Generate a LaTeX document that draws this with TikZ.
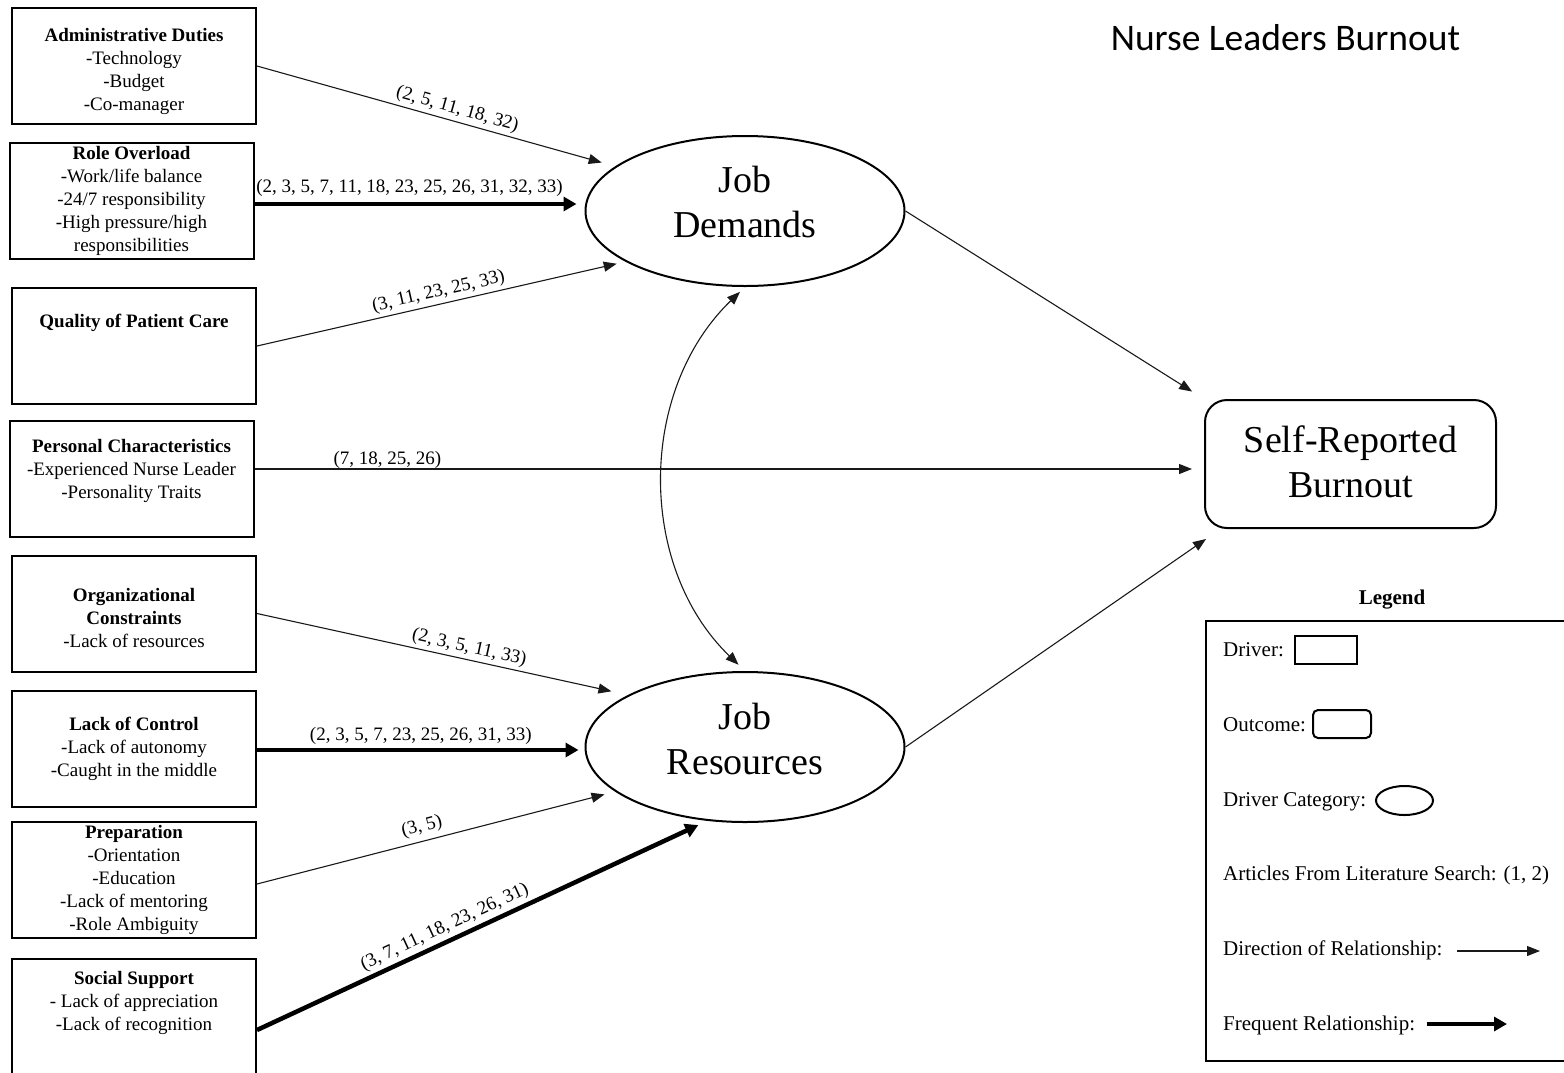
\documentclass[tikz,border=0pt]{standalone}
\usepackage{fontspec}
\setmainfont{Liberation Serif}
\newfontfamily\titlefont{Carlito}
\usetikzlibrary{arrows.meta,shapes.geometric}
\setlength\parindent{0pt}
% driver box contents: top padding, then the centred lines
\newcommand\drvtext[2]{\parbox[c][116pt][t]{244pt}{\centering\vspace*{#1}#2}}
% two centred lines, shifted up by #1 while keeping their box size
\newcommand\twoline[3]{\raisebox{#1}[\height][\depth]{\begin{tabular}{@{}c@{}}#2\\#3\end{tabular}}}
\begin{document}
\begin{tikzpicture}[x=1pt,y=-1pt,
  every node/.style={font=\fontsize{19}{23}\selectfont},
  driverbox/.style={draw, line width=2pt, inner sep=0pt, minimum width=244pt, minimum height=116pt},
  category/.style={draw, ellipse, line width=2pt, minimum width=319pt, minimum height=150pt, inner sep=0pt, font=\fontsize{38}{45}\selectfont},
  outcome/.style={draw, rounded corners=22pt, line width=2pt, minimum width=291pt, minimum height=128pt, font=\fontsize{38}{45}\selectfont},
  rel/.style={line width=1.1pt, draw=black!90, -{Triangle[length=13pt,width=10pt]}},
  freq/.style={line width=4.5pt, -{Triangle[length=13pt,width=14pt]}},
  cite/.style={sloped, above=0pt, inner sep=3pt},
  legtext/.style={anchor=base west, inner sep=0pt, font=\fontsize{21}{25}\selectfont},
]
\useasboundingbox (0,0) rectangle (1564,1072);
\clip (0,0) rectangle (1564,1072);

% title
\node[font=\titlefont\fontsize{37.5}{45}\selectfont] (title) at (1285.5,38) {Nurse Leaders Burnout};

% drivers
\node[driverbox] (adm) at (134,66) {\drvtext{17pt}{\strut\textbf{Administrative Duties}\\-Technology\\-Budget\\-Co-manager}};
\node[driverbox] (role) at (131.5,200.5) {\drvtext{1pt}{\strut\textbf{Role Overload}\\-Work/life balance\\-24/7 responsibility\\-High pressure/high\\responsibilities}};
\node[driverbox] (qual) at (134,346) {\drvtext{23pt}{\strut\textbf{Quality of Patient Care}}};
\node[driverbox] (pers) at (131.5,478.5) {\drvtext{16pt}{\strut\textbf{Personal Characteristics}\\-Experienced Nurse Leader\\-Personality Traits}};
\node[driverbox] (org) at (134,613.5) {\drvtext{30pt}{\strut\textbf{Organizational}\\\textbf{Constraints}\\-Lack of resources}};
\node[driverbox] (ctl) at (134,748.5) {\drvtext{24pt}{\strut\textbf{Lack of Control}\\-Lack of autonomy\\-Caught in the middle}};
\node[driverbox] (prep) at (134,879.5) {\drvtext{0.5pt}{\strut\textbf{Preparation}\\-Orientation\\-Education\\-Lack of mentoring\\-Role Ambiguity}};
\node[driverbox] (soc) at (134,1017) {\drvtext{9pt}{\strut\textbf{Social Support}\\- Lack of appreciation\\-Lack of recognition}};

% driver categories and outcome
\node[category] (jd) at (745,211) {\twoline{5pt}{Job}{Demands}};
\node[category] (jr) at (745,747) {\twoline{4pt}{Job}{Resources}};
\node[outcome] (srb) at (1350.5,464) {\twoline{-2pt}{Self-Reported}{Burnout}};

% relationships
\draw[rel, shorten >=14pt] (adm.east) -- node[cite,pos=0.55]{(2, 5, 11, 18, 32)} (jd.161);
\draw[freq, shorten >=8pt] ([yshift=-3.5pt]role.east) -- node[cite,pos=0.47,above=2pt]{(2, 3, 5, 7, 11, 18, 23, 25, 26, 31, 32, 33)} ([yshift=7pt]jd.west);
\draw[rel, shorten >=9pt] (qual.east) -- node[cite,pos=0.5]{(3, 11, 23, 25, 33)} (jd.203);
\draw[rel, shorten >=12pt] ([yshift=9.5pt]pers.east) -- node[cite,pos=0.14,above=-3pt]{(7, 18, 25, 26)} ([yshift=-5pt]srb.west);
\draw[rel, shorten >=14pt] (jd.east) -- (srb.north west);
\draw[rel] (jr.east) -- ([xshift=2pt,yshift=-10pt]srb.south west);
\draw[rel, shorten >=17pt] (org.east) -- node[cite,pos=0.565]{(2, 3, 5, 11, 33)} (jr.156);
\draw[freq, shorten >=6pt] ([yshift=-1.5pt]ctl.east) -- node[cite,pos=0.5]{(2, 3, 5, 7, 23, 25, 26, 31, 33)} ([yshift=-3pt]jr.west);
\draw[rel, shorten >=11pt] ([yshift=-4.5pt]prep.east) -- node[cite,pos=0.47,above=2pt]{(3, 5)} (jr.199);
\draw[freq, shorten >=10pt] ([yshift=-13pt]soc.east) -- node[cite,pos=0.43]{(3, 7, 11, 18, 23, 26, 31)} (jr.243);
\draw[line width=1.1pt, draw=black!90, {Triangle[length=13pt,width=10pt]}-{Triangle[length=13pt,width=10pt]}, shorten <=7pt, shorten >=9pt] (jd.south) to[bend right=46] (jr.north);

% legend
\node[font=\fontsize{21}{25}\selectfont\bfseries] (legtitle) at (1392,600) {Legend};
\node[draw, line width=2pt, minimum width=370pt, minimum height=440pt, anchor=north west, inner sep=0pt] (legbox) at (1205,620) {};
\node[legtext] (ldrv) at (1223,656) {Driver:};
\node[draw, line width=2pt, minimum width=62pt, minimum height=28pt, inner sep=0pt] (ldrvbox) at (1326,650) {};
\node[legtext] (lout) at (1223,731) {Outcome:};
\node[draw, line width=2pt, rounded corners=5pt, minimum width=58pt, minimum height=28pt, inner sep=0pt] (loutbox) at (1342,724) {};
\node[legtext] (lcat) at (1223,806) {Driver Category:};
\node[draw, ellipse, line width=2pt, minimum width=57pt, minimum height=29pt, inner sep=0pt] (lcatell) at (1404.5,800.5) {};
\node[legtext] (lart) at (1223,880) {Articles From Literature Search: (1, 2)};
\node[legtext] (ldir) at (1223,955) {Direction of Relationship:};
\node[legtext] (lfreq) at (1223,1030) {Frequent Relationship:};
\coordinate (ldira) at (1457,951);
\coordinate (ldirb) at (1540,951);
\draw[rel] (ldira) -- (ldirb);
\coordinate (lfreqa) at (1427,1024);
\coordinate (lfreqb) at (1507,1024);
\draw[freq] (lfreqa) -- (lfreqb);
\end{tikzpicture}
\end{document}
